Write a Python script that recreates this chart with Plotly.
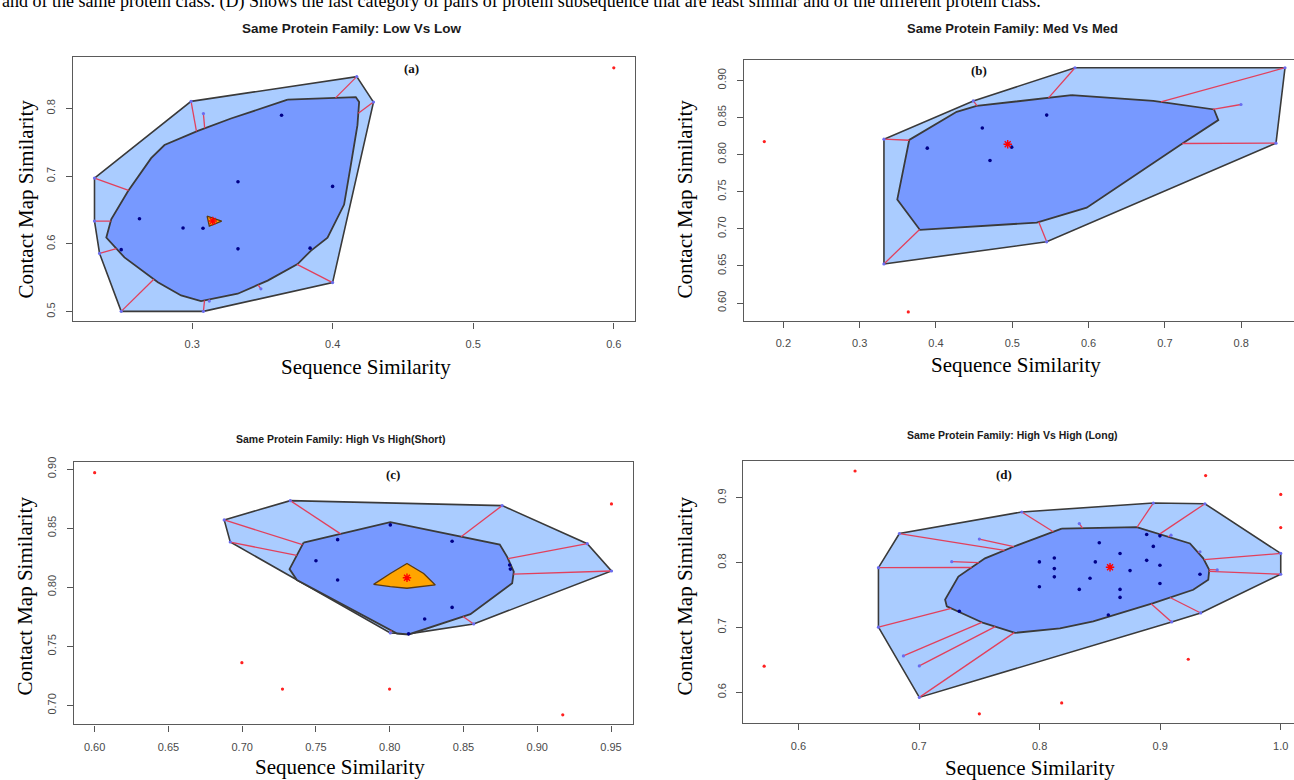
import plotly.graph_objects as go

# ---------------- data ----------------
# Panel (a): Low Vs Low
a_seq  = [0.4171, 0.4290, 0.3999, 0.3080, 0.2495, 0.2341, 0.2305, 0.2305, 0.2992, 0.3080, 0.3489, 0.3122,
          0.3636, 0.3326, 0.3999, 0.2625, 0.2935, 0.3077, 0.3326, 0.3839, 0.2495]
a_cmap = [0.8470, 0.8094, 0.5429, 0.5004, 0.5004, 0.5859, 0.6337, 0.6972, 0.8104, 0.7924, 0.5337, 0.5156,
          0.7899, 0.6918, 0.6849, 0.6372, 0.6234, 0.6230, 0.5927, 0.5937, 0.5915]
a_out_seq  = [0.600]
a_out_cmap = [0.860]
a_bag_seq  = [0.3679, 0.4164, 0.4188, 0.4176, 0.4129, 0.4081, 0.3963, 0.3844, 0.3750, 0.3537, 0.3324, 0.3063,
              0.2921, 0.2756, 0.2518, 0.2389, 0.2424, 0.2543, 0.2708, 0.2803, 0.3040, 0.3276]
a_bag_cmap = [0.8129, 0.8167, 0.8094, 0.7753, 0.7167, 0.6581, 0.6093, 0.5898, 0.5703, 0.5458, 0.5264, 0.5156,
              0.5239, 0.5435, 0.5801, 0.6093, 0.6362, 0.6776, 0.7265, 0.7460, 0.7669, 0.7851]
a_ctr_seq  = [0.3106, 0.3210, 0.3122]
a_ctr_cmap = [0.6410, 0.6337, 0.6264]
a_med = (0.3146, 0.6337)

# Panel (b): Med Vs Med
b_seq  = [0.5822, 0.8574, 0.8456, 0.5451, 0.3318, 0.3318, 0.4489, 0.7997,
          0.5451, 0.4607, 0.3886, 0.4992, 0.4708]
b_cmap = [0.9170, 0.9170, 0.8154, 0.6825, 0.6527, 0.8207, 0.8723, 0.8675,
          0.8532, 0.8358, 0.8087, 0.8100, 0.7921]
b_out_seq  = [0.175, 0.3637]
b_out_cmap = [0.8175, 0.588]
b_bag_seq  = [0.5778, 0.6848, 0.7644, 0.7700, 0.7220, 0.5975, 0.5320, 0.3790, 0.3493, 0.3650, 0.4271, 0.4533]
b_bag_cmap = [0.8800, 0.8723, 0.8608, 0.8465, 0.8144, 0.7285, 0.7084, 0.6985, 0.7396, 0.8198, 0.8576, 0.8656]
b_ctr_seq  = []
b_ctr_cmap = []
b_med = (0.494, 0.814)

# Panel (c): High Vs High (Short)
c_seq  = [0.7326, 0.8762, 0.9339, 0.9503, 0.8569, 0.8128, 0.8004, 0.6919, 0.6878,
          0.7647, 0.8423, 0.7500, 0.7647, 0.8423, 0.8237, 0.8813, 0.8818, 0.8004]
c_cmap = [0.8733, 0.8691, 0.8369, 0.8138, 0.7690, 0.7606, 0.7614, 0.8383, 0.8570,
          0.8403, 0.8389, 0.8224, 0.8062, 0.7830, 0.7732, 0.8188, 0.8154, 0.8528]
c_out_seq  = [0.9503, 0.6998, 0.7273, 0.7999, 0.9173, 0.6000]
c_out_cmap = [0.8705, 0.7362, 0.7139, 0.7139, 0.6921, 0.8970]
c_bag_seq  = [0.7416, 0.8004, 0.8746, 0.8796, 0.8841, 0.8830, 0.8547, 0.8128, 0.8050, 0.7371, 0.7321]
c_bag_cmap = [0.8378, 0.8551, 0.8361, 0.8258, 0.8132, 0.8034, 0.7773, 0.7601, 0.7609, 0.8062, 0.8154]
c_ctr_seq  = [0.8117, 0.8230, 0.8309, 0.8208, 0.8117, 0.8004, 0.7891, 0.8004]
c_ctr_cmap = [0.8201, 0.8117, 0.8020, 0.8006, 0.7992, 0.8006, 0.8025, 0.8117]
c_med = (0.8117, 0.8081)

# Panel (d): High Vs High (Long)
d_seq  = [0.8943, 0.9371, 1.0000, 1.0000, 0.9336, 0.9095, 0.7002, 0.6663, 0.6663, 0.6837, 0.7852,
          0.6870, 0.7002, 0.7500, 0.7271, 0.8329, 0.9090, 0.9330, 0.9473, 0.7334,
          0.8495, 0.8667, 0.8888, 0.8998, 0.8943, 0.7998, 0.8122, 0.8462, 0.8122, 0.8122, 0.8418,
          0.8750, 0.8888, 0.8998, 0.9330, 0.7998, 0.8329, 0.8667, 0.8667, 0.8998, 0.8570]
d_cmap = [0.8919, 0.8908, 0.8142, 0.7821, 0.7224, 0.7086, 0.5922, 0.7005, 0.7923, 0.8449, 0.8781,
          0.6561, 0.6407, 0.8363, 0.8015, 0.8602, 0.8424, 0.8168, 0.7888, 0.7250,
          0.8306, 0.8142, 0.8433, 0.8413, 0.8250, 0.8011, 0.8072, 0.8011, 0.7908, 0.7781, 0.7760,
          0.7877, 0.8035, 0.7959, 0.7821, 0.7628, 0.7587, 0.7587, 0.7464, 0.7678, 0.7193]
d_out_seq  = [0.9377, 1.0000, 1.0000, 0.9233, 0.8183, 0.7500, 0.6469, 0.5715]
d_out_cmap = [0.9343, 0.9052, 0.8541, 0.6510, 0.5836, 0.5668, 0.9413, 0.6403]
d_bag_seq  = [0.8183, 0.8805, 0.9247, 0.9357, 0.9407, 0.9399, 0.9274, 0.8943, 0.8445, 0.8169, 0.7796,
              0.7533, 0.7230, 0.7216, 0.7326, 0.7547, 0.7782]
d_bag_cmap = [0.8525, 0.8547, 0.8296, 0.8066, 0.7888, 0.7735, 0.7582, 0.7377, 0.7096, 0.6985, 0.6917,
              0.7070, 0.7326, 0.7429, 0.7786, 0.8066, 0.8245]
d_ctr_seq  = []
d_ctr_cmap = []
d_med = (0.8584, 0.7928)

titles = ["Same Protein Family: Low Vs Low", "Same Protein Family: Med Vs Med",
          "Same Protein Family: High Vs High(Short)", "Same Protein Family: High Vs High (Long)"]
letters = ["(a)", "(b)", "(c)", "(d)"]
caption = ("and of the same protein class. (D) Shows the last category of pairs of protein "
           "subsequence that are least similar and of the different protein class.")

# ---------------- geometry helpers ----------------
def convex_hull(pts):
    pts = sorted(set(pts))
    if len(pts) < 3:
        return pts
    def cross(o, a, b):
        return (a[0]-o[0])*(b[1]-o[1]) - (a[1]-o[1])*(b[0]-o[0])
    lo, up = [], []
    for p in pts:
        while len(lo) >= 2 and cross(lo[-2], lo[-1], p) <= 0:
            lo.pop()
        lo.append(p)
    for p in reversed(pts):
        while len(up) >= 2 and cross(up[-2], up[-1], p) <= 0:
            up.pop()
        up.append(p)
    return lo[:-1] + up[:-1]

def inside(p, poly):
    x, y = p
    res = False
    n = len(poly)
    for i in range(n):
        x1, y1 = poly[i]
        x2, y2 = poly[(i+1) % n]
        if (y1 > y) != (y2 > y):
            xi = x1 + (y-y1)*(x2-x1)/(y2-y1)
            if x < xi:
                res = not res
    return res

def whisker_end(p, c, poly):
    best = None
    n = len(poly)
    dx, dy = c[0]-p[0], c[1]-p[1]
    for i in range(n):
        ax, ay = poly[i]
        bx, by = poly[(i+1) % n]
        ex, ey = bx-ax, by-ay
        den = dx*ey - dy*ex
        if abs(den) < 1e-15:
            continue
        t = ((ax-p[0])*ey - (ay-p[1])*ex) / den
        u = ((ax-p[0])*dy - (ay-p[1])*dx) / den
        if 0 <= t <= 1 and 0 <= u <= 1:
            if best is None or t < best:
                best = t
    if best is None:
        return None
    return (p[0]+best*dx, p[1]+best*dy)

# ---------------- figure ----------------
W, H = 1294, 780
BAG = "#7799ff"
LOOP = "#aaccff"
EDGE = "#3a3a3a"
WHISK = "#e2405c"

panels = [
    dict(seq=a_seq, cm=a_cmap, oseq=a_out_seq, ocm=a_out_cmap, bs=a_bag_seq, bc=a_bag_cmap,
         cs=a_ctr_seq, cc=a_ctr_cmap, med=a_med,
         px=(73, 634.6), py=(51, 317.9), xr=(0.2152, 0.6148), yr=(0.4855, 0.8765),
         xt=[0.3, 0.4, 0.5, 0.6], xtl=["0.3", "0.4", "0.5", "0.6"],
         yt=[0.5, 0.6, 0.7, 0.8], ytl=["0.5", "0.6", "0.7", "0.8"],
         title_xy=(352, 23), tsize=13.5, letter_xy=(411, 63), xlab_xy=(366, 364), ylab_xy=(25, 195), closed=True),
    dict(seq=b_seq, cm=b_cmap, oseq=b_out_seq, ocm=b_out_cmap, bs=b_bag_seq, bc=b_bag_cmap,
         cs=b_ctr_seq, cc=b_ctr_cmap, med=b_med,
         px=(744, 1294), py=(54, 317.3), xr=(0.1484, 0.8692), yr=(0.576, 0.928),
         xt=[0.2, 0.3, 0.4, 0.5, 0.6, 0.7, 0.8], xtl=["0.2", "0.3", "0.4", "0.5", "0.6", "0.7", "0.8"],
         yt=[0.60, 0.65, 0.70, 0.75, 0.80, 0.85, 0.90],
         ytl=["0.60", "0.65", "0.70", "0.75", "0.80", "0.85", "0.90"],
         title_xy=(1012, 23), tsize=13, letter_xy=(979, 65), xlab_xy=(1016, 362), ylab_xy=(684, 195), closed=False),
    dict(seq=c_seq, cm=c_cmap, oseq=c_out_seq, ocm=c_out_cmap, bs=c_bag_seq, bc=c_bag_cmap,
         cs=c_ctr_seq, cc=c_ctr_cmap, med=c_med,
         px=(74, 632.7), py=(460, 724), xr=(0.586, 0.9647), yr=(0.684, 0.9056),
         xt=[0.60, 0.65, 0.70, 0.75, 0.80, 0.85, 0.90, 0.95],
         xtl=["0.60", "0.65", "0.70", "0.75", "0.80", "0.85", "0.90", "0.95"],
         yt=[0.70, 0.75, 0.80, 0.85, 0.90], ytl=["0.70", "0.75", "0.80", "0.85", "0.90"],
         title_xy=(340, 436), tsize=10.5, letter_xy=(393, 472), xlab_xy=(340, 767), ylab_xy=(25, 595), closed=True),
    dict(seq=d_seq, cm=d_cmap, oseq=d_out_seq, ocm=d_out_cmap, bs=d_bag_seq, bc=d_bag_cmap,
         cs=d_ctr_seq, cc=d_ctr_cmap, med=d_med,
         px=(743.3, 1294), py=(459, 722.7), xr=(0.5542, 1.011), yr=(0.5525, 0.956),
         xt=[0.6, 0.7, 0.8, 0.9, 1.0], xtl=["0.6", "0.7", "0.8", "0.9", "1.0"],
         yt=[0.6, 0.7, 0.8, 0.9], ytl=["0.6", "0.7", "0.8", "0.9"],
         title_xy=(1012, 432), tsize=10.5, letter_xy=(1004, 472), xlab_xy=(1030, 768), ylab_xy=(685, 595), closed=False),
]

fig = go.Figure()
annotations = []
layout_axes = {}

for i, P in enumerate(panels):
    k = "" if i == 0 else str(i + 1)
    xa, ya = "x" + k, "y" + k

    bag = list(zip(P["bs"], P["bc"]))
    pts = list(zip(P["seq"], P["cm"]))
    hull = convex_hull(pts)
    med = P["med"]

    # loop hull (convex hull of all non-outlying points)
    fig.add_trace(go.Scatter(x=[h[0] for h in hull] + [hull[0][0]], y=[h[1] for h in hull] + [hull[0][1]],
                             mode="lines", fill="toself", fillcolor=LOOP,
                             line=dict(color=EDGE, width=1.6), xaxis=xa, yaxis=ya, hoverinfo="skip"))
    # bag
    fig.add_trace(go.Scatter(x=list(P["bs"]) + [P["bs"][0]], y=list(P["bc"]) + [P["bc"][0]],
                             mode="lines", fill="toself", fillcolor=BAG,
                             line=dict(color=EDGE, width=1.8), xaxis=xa, yaxis=ya, hoverinfo="skip"))
    # whiskers: loop points towards the median, stopping at the bag
    wx, wy, in_bag, in_loop = [], [], [], []
    for p in pts:
        if inside(p, bag):
            in_bag.append(p)
            continue
        in_loop.append(p)
        e = whisker_end(p, med, bag)
        if e is not None:
            wx += [p[0], e[0], None]
            wy += [p[1], e[1], None]
    fig.add_trace(go.Scatter(x=wx, y=wy, mode="lines", line=dict(color=WHISK, width=1.3),
                             xaxis=xa, yaxis=ya, hoverinfo="skip"))
    # points
    fig.add_trace(go.Scatter(x=[p[0] for p in in_loop], y=[p[1] for p in in_loop], mode="markers",
                             marker=dict(color="#6a6cf0", size=3.2), xaxis=xa, yaxis=ya, hoverinfo="skip"))
    fig.add_trace(go.Scatter(x=[p[0] for p in in_bag], y=[p[1] for p in in_bag], mode="markers",
                             marker=dict(color="#000088", size=3.6), xaxis=xa, yaxis=ya, hoverinfo="skip"))
    # center region
    if P["cs"]:
        fig.add_trace(go.Scatter(x=list(P["cs"]) + [P["cs"][0]], y=list(P["cc"]) + [P["cc"][0]],
                                 mode="lines", fill="toself", fillcolor="#ffa500",
                                 line=dict(color="#5a3a10", width=1.3), xaxis=xa, yaxis=ya, hoverinfo="skip"))
    fig.add_trace(go.Scatter(x=[med[0]], y=[med[1]], mode="markers",
                             marker=dict(symbol="asterisk-open", color="#ff0000", size=7,
                                         line=dict(color="#ff0000", width=1.4)),
                             xaxis=xa, yaxis=ya, hoverinfo="skip"))
    # outliers
    fig.add_trace(go.Scatter(x=P["oseq"], y=P["ocm"], mode="markers",
                             marker=dict(color="#ff2020", size=3.2), xaxis=xa, yaxis=ya, hoverinfo="skip"))

    dx = [P["px"][0] / W, min(P["px"][1] / W, 1.0)]
    dy = [1 - P["py"][1] / H, 1 - P["py"][0] / H]
    tickfont = dict(family="Liberation Sans, Arial", size=11, color="#4a4a4a")
    layout_axes["xaxis" + k] = dict(domain=dx, range=list(P["xr"]), anchor=ya, tickvals=P["xt"],
                                    ticktext=P["xtl"], ticks="outside", ticklen=6, tickcolor="#555",
                                    showline=True, mirror=True, linecolor="#5a5a5a", linewidth=1.4,
                                    showgrid=False, zeroline=False, tickfont=tickfont,
                                    ticklabelstandoff=6, fixedrange=True)
    layout_axes["yaxis" + k] = dict(domain=dy, range=list(P["yr"]), anchor=xa, tickvals=P["yt"],
                                    ticktext=P["ytl"], ticks="outside", ticklen=6, tickcolor="#555",
                                    showline=True, mirror=P["closed"], linecolor="#5a5a5a", linewidth=1.4,
                                    showgrid=False, zeroline=False, tickfont=tickfont, tickangle=-90,
                                    ticklabelstandoff=6, fixedrange=True)

    tx, ty = P["title_xy"]
    annotations.append(dict(text="<b>" + titles[i] + "</b>", x=tx / W, y=1 - ty / H, xref="paper",
                            yref="paper", showarrow=False, xanchor="center", yanchor="middle",
                            font=dict(family="Liberation Sans, Arial", size=P["tsize"], color="#1a1a1a")))
    lx, ly = P["letter_xy"]
    annotations.append(dict(text="<b>" + letters[i] + "</b>", x=lx / W, y=1 - ly / H, xref="paper",
                            yref="paper", showarrow=False, xanchor="center", yanchor="middle",
                            font=dict(family="Liberation Serif, Times New Roman", size=13, color="#111")))
    sx, sy = P["xlab_xy"]
    annotations.append(dict(text="Sequence Similarity", x=sx / W, y=1 - sy / H, xref="paper", yref="paper",
                            showarrow=False, xanchor="center", yanchor="middle",
                            font=dict(family="Liberation Serif, Times New Roman", size=21, color="#000")))
    cx, cy = P["ylab_xy"]
    annotations.append(dict(text="Contact Map Similarity", x=cx / W, y=1 - cy / H, xref="paper", yref="paper",
                            showarrow=False, xanchor="center", yanchor="middle", textangle=-90,
                            font=dict(family="Liberation Serif, Times New Roman", size=21, color="#000")))

# running caption line at the very top edge of the page
annotations.append(dict(text=caption, x=0, y=1 + 5 / H, xref="paper", yref="paper", showarrow=False,
                        xanchor="left", yanchor="middle",
                        font=dict(family="Liberation Serif, Times New Roman", size=18, color="#000")))

fig.update_layout(width=W, height=H, margin=dict(l=0, r=0, t=0, b=0), showlegend=False,
                  paper_bgcolor="white", plot_bgcolor="white", annotations=annotations, **layout_axes)

fig.write_html("out.html")
